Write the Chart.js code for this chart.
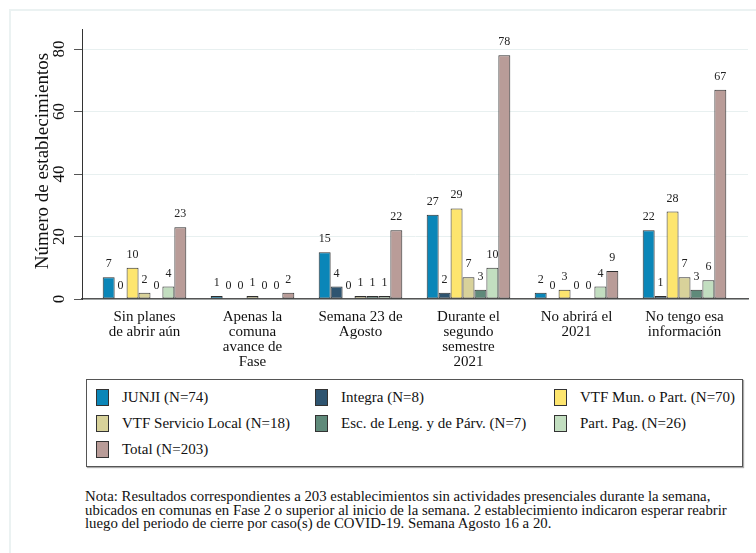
<!DOCTYPE html>
<html>
<head>
<meta charset="utf-8">
<script src="https://cdn.jsdelivr.net/npm/chart.js@4.4.1/dist/chart.umd.min.js"></script>
<style>
  body { margin: 0; background: #fff; width: 756px; height: 553px; overflow: hidden; position: relative;
         font-family: "Liberation Serif", "Times New Roman", serif; color: #111; }
  #frame { position: absolute; left: 9px; top: 9px; width: 800px; height: 600px; border: 2px solid #ebf2f2; }
  #wrap { position: absolute; left: 0; top: 0; width: 756px; height: 375px; }
  #legend { position: absolute; left: 86px; top: 379px; width: 655px; height: 86px; border: 1px solid #555;
            box-shadow: 1px 1px 1px #aaa; background: #fff; }
  .item { position: absolute; font-size: 15px; white-space: nowrap; height: 17px; line-height: 17px; }
  .sw { position: absolute; left: 0; top: 0; width: 11px; height: 15px; border: 1px solid #333; }
  .item span { position: absolute; left: 26px; top: 0; }
  #note { position: absolute; left: 85px; top: 490px; font-size: 14.8px; line-height: 13.5px; white-space: nowrap; }
</style>
</head>
<body>
<div id="frame"></div>
<div id="wrap"><canvas id="chart" width="756" height="375"></canvas></div>
<div id="legend"></div>
<div id="note">Nota: Resultados correspondientes a 203 establecimientos sin actividades presenciales durante la semana,<br>ubicados en comunas en Fase 2 o superior al inicio de la semana. 2 establecimiento indicaron esperar reabrir<br>luego del periodo de cierre por caso(s) de COVID-19. Semana Agosto 16 a 20.</div>
<script>
// categorias (eje x)
const categories = [
  ["Sin planes", "de abrir aún"],
  ["Apenas la", "comuna", "avance de", "Fase"],
  ["Semana 23 de", "Agosto"],
  ["Durante el", "segundo", "semestre", "2021"],
  ["No abrirá el", "2021"],
  ["No tengo esa", "información"]
];

// series
const junji    = [7, 1, 15, 27, 2, 22];
const integra  = [0, 0, 4, 2, 0, 1];
const vtfMun   = [10, 0, 0, 29, 3, 28];
const vtfLocal = [2, 1, 1, 7, 0, 7];
const escLeng  = [0, 0, 1, 3, 0, 3];
const partPag  = [4, 0, 1, 10, 4, 6];
const total    = [23, 2, 22, 78, 9, 67];

const seriesNames = ["JUNJI (N=74)", "Integra (N=8)", "VTF Mun. o Part. (N=70)",
  "VTF Servicio Local (N=18)", "Esc. de Leng. y de Párv. (N=7)", "Part. Pag. (N=26)", "Total (N=203)"];
const seriesColors = ["#0a86b8", "#2e5470", "#fde56e", "#d8d29a", "#5f8a7a", "#c2dec0", "#b99c98"];
const yTicks = [0, 20, 40, 60, 80];

const seriesValues = [junji, integra, vtfMun, vtfLocal, escLeng, partPag, total];

const datasets = seriesValues.map((vals, i) => ({
  label: seriesNames[i],
  data: vals.map((v, j) => ({ x: j, y: v })),
  backgroundColor: seriesColors[i],
  borderColor: "#2e2e2e",
  borderWidth: 1,
  borderSkipped: false,
  categoryPercentage: 0.774,
  barPercentage: 1.0
}));

const serif = '"Liberation Serif", "Times New Roman", serif';

// etiquetas rotadas del eje y y numeros sobre las barras
const labelsPlugin = {
  id: 'labels',
  afterDatasetsDraw(chart) {
    const ctx = chart.ctx;
    ctx.save();
    ctx.fillStyle = '#222';
    ctx.font = '12px ' + serif;
    ctx.textAlign = 'center';
    ctx.textBaseline = 'alphabetic';
    chart.data.datasets.forEach((ds, i) => {
      chart.getDatasetMeta(i).data.forEach((bar, j) => {
        ctx.fillText(String(ds.data[j].y), bar.x, bar.y - 10);
      });
    });
    ctx.restore();
  },
  afterDraw(chart) {
    const ctx = chart.ctx;
    const y = chart.scales.y;
    ctx.save();
    ctx.fillStyle = '#111';
    ctx.textAlign = 'center';
    ctx.textBaseline = 'middle';
    ctx.font = '17px ' + serif;
    yTicks.forEach(v => {
      ctx.save();
      ctx.translate(60, y.getPixelForValue(v));
      ctx.rotate(-Math.PI / 2);
      ctx.fillText(String(v), 0, 0);
      ctx.restore();
    });
    ctx.font = '19px ' + serif;
    ctx.translate(43, (chart.chartArea.top + chart.chartArea.bottom) / 2 - 3);
    ctx.rotate(-Math.PI / 2);
    ctx.fillText("Número de establecimientos", 0, 0);
    ctx.restore();
  }
};

new Chart(document.getElementById('chart'), {
  type: 'bar',
  data: { datasets },
  plugins: [labelsPlugin],
  options: {
    responsive: false,
    animation: false,
    devicePixelRatio: 1,
    layout: { padding: { top: 29, right: 8, left: 0, bottom: 0 } },
    plugins: { legend: { display: false }, tooltip: { enabled: false } },
    scales: {
      x: {
        type: 'linear',
        offset: false,
        min: -0.5787,
        max: 5.588,
        afterBuildTicks: s => { s.ticks = categories.map((c, i) => ({ value: i })); },
        afterFit: s => { s.height = 76; },
        grid: { display: false, drawTicks: false, offset: false },
        border: { display: true, color: '#555', width: 1.5 },
        ticks: {
          autoSkip: false, maxRotation: 0, minRotation: 0, padding: 10,
          color: '#111',
          font: { family: serif, size: 15, lineHeight: 1.02 },
          callback: v => categories[v]
        }
      },
      y: {
        min: 0,
        max: 86.4,
        afterBuildTicks: s => { s.ticks = yTicks.map(v => ({ value: v })); },
        afterFit: s => { s.width = 82; },
        grid: { color: '#e8f0f0', lineWidth: 1, drawTicks: true, tickLength: 8, tickColor: '#555' },
        border: { display: true, color: '#333', width: 1 },
        ticks: { display: false }
      }
    }
  }
});

// leyenda
const legend = document.getElementById('legend');
const colX = [9, 228, 467];
const rowY = [9, 35, 61];
seriesNames.forEach((name, i) => {
  const it = document.createElement('div');
  it.className = 'item';
  it.style.left = colX[i % 3] + 'px';
  it.style.top = rowY[Math.floor(i / 3)] + 'px';
  it.innerHTML = '<div class="sw" style="background:' + seriesColors[i] + '"></div><span></span>';
  it.querySelector('span').textContent = name;
  legend.appendChild(it);
});
</script>
</body>
</html>
